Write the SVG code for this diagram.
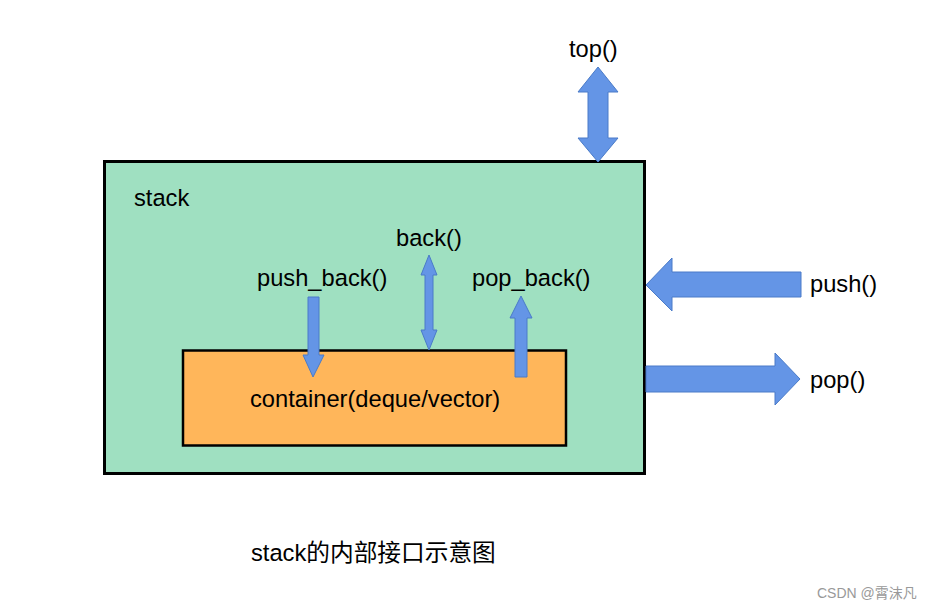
<svg xmlns="http://www.w3.org/2000/svg" width="932" height="610" viewBox="0 0 932 610">
<style>
.t{font-family:"Liberation Sans",Arial,"Noto Sans CJK SC",sans-serif;font-size:23.7px;fill:#000}
.arr{fill:#6495E6;stroke:#4A7BC8;stroke-width:1}
</style>
<rect width="932" height="610" fill="#fff"/>
<g id="stack">
<rect x="104.5" y="161.5" width="540" height="312" fill="#9FE0C1" stroke="#000" stroke-width="3"/>
<text class="t" x="134" y="206">stack</text>
</g>
<g id="container">
<rect x="183" y="350.5" width="383" height="95" fill="#FFB65A" stroke="#000" stroke-width="2.5"/>
<text class="t" x="250" y="407">container(deque/vector)</text>
</g>
<g id="connectors">
<polygon class="arr" points="598,67 618,92 608,92 608,138 618,138 598,162 578,138 588,138 588,92 578,92"/>
<polygon class="arr" points="429,255 437,275 433,275 433,330 437,330 429,350 421,330 425,330 425,275 421,275"/>
<polygon class="arr" points="521,296 532,318 527,318 527,377 515,377 515,318 510,318"/>
<polygon class="arr" points="308,297 319,297 319,355 324,355 313,377 303,355 308,355"/>
<polygon class="arr" points="646,285 672,258 672,272 801,272 801,297 672,297 672,311"/>
<polygon class="arr" points="646,366 775,366 775,353 800,379 775,405 775,392 646,392"/>
</g>
<g id="labels">
<text class="t" x="569" y="57">top()</text>
<text class="t" x="396" y="246">back()</text>
<text class="t" x="257" y="286">push_back()</text>
<text class="t" x="472" y="286">pop_back()</text>
<text class="t" x="810" y="292">push()</text>
<text class="t" x="810" y="388">pop()</text>
</g>
<g id="caption">
<text class="t" x="251" y="561">stack的内部接口示意图</text>
<text x="817" y="598" style="font-family:'Liberation Sans',Arial,'Noto Sans CJK SC',sans-serif;font-size:14px;fill:#999">CSDN @霄沫凡</text>
</g>
</svg>
